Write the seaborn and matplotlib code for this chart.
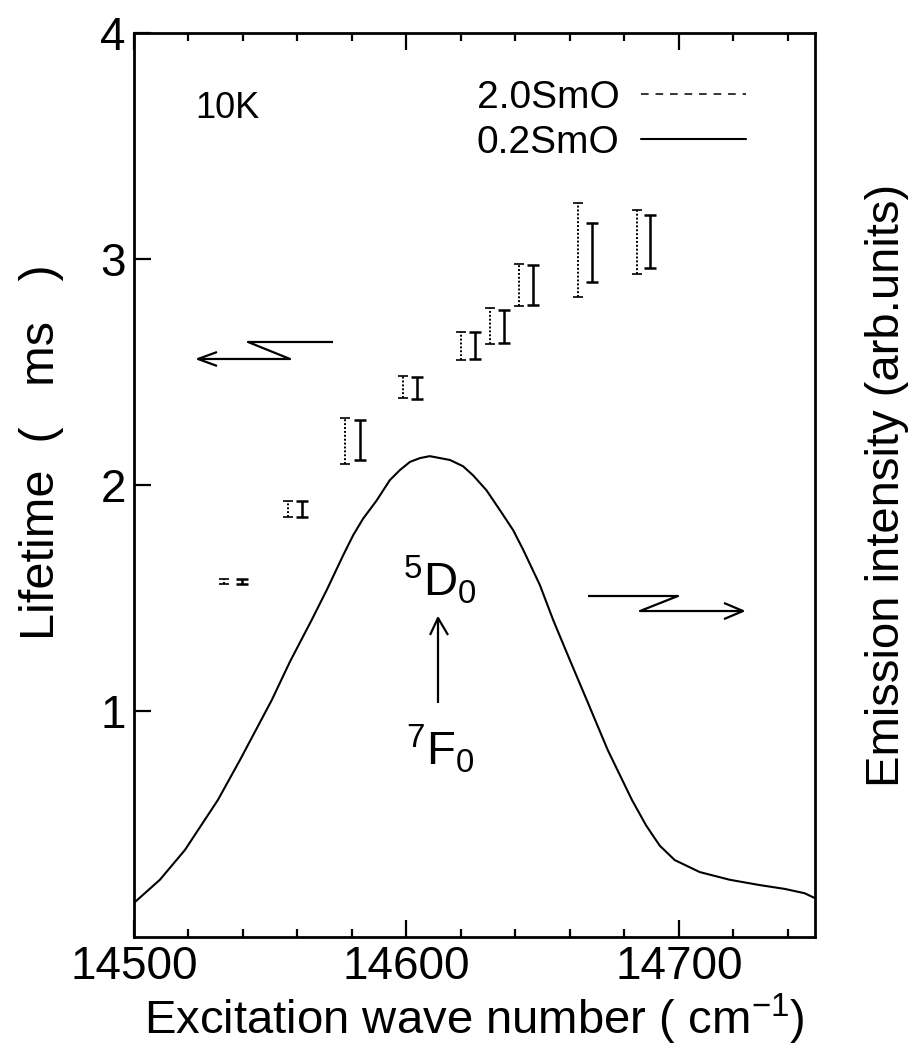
import matplotlib
matplotlib.use("Agg")
import matplotlib.pyplot as plt
from matplotlib.lines import Line2D
from matplotlib.ticker import MultipleLocator
import seaborn as sns

# Lifetime data for the two samples (centre value and half-width of the error bar)
x_20 = [14533.0, 14556.4, 14577.4, 14598.6, 14619.9, 14630.6, 14641.4, 14662.9, 14684.5]
y_20 = [1.573, 1.894, 2.194, 2.432, 2.617, 2.703, 2.885, 3.038, 3.077]
e_20 = [0.013, 0.035, 0.101, 0.049, 0.062, 0.079, 0.092, 0.208, 0.142]

x_02 = [14539.5, 14561.7, 14582.9, 14603.9, 14625.1, 14635.9, 14646.5, 14668.0, 14689.6]
y_02 = [1.573, 1.894, 2.198, 2.429, 2.619, 2.702, 2.885, 3.030, 3.077]
e_02 = [0.012, 0.037, 0.088, 0.048, 0.060, 0.072, 0.089, 0.130, 0.118]

# Emission spectrum of the 7F0 -> 5D0 band (arbitrary units)
wn = [14500.4, 14509.5, 14518.7, 14530.8, 14538.9, 14550.6, 14557.2, 14565.2,
      14570.7, 14576.8, 14580.5, 14584.1, 14589.1, 14593.9, 14597.6, 14601.3,
      14605.0, 14608.6, 14612.3, 14616.0, 14620.8, 14624.5, 14629.4, 14634.3,
      14639.2, 14642.9, 14649.0, 14653.9, 14660.0, 14666.2, 14673.9, 14682.8,
      14688.0, 14693.0, 14698.5, 14707.7, 14718.7, 14729.7, 14738.9, 14746.2,
      14749.9]
intensity = [0.073, 0.119, 0.181, 0.285, 0.368, 0.493, 0.572, 0.659,
             0.721, 0.794, 0.836, 0.870, 0.908, 0.950, 0.971, 0.988,
             0.996, 1.000, 0.996, 0.992, 0.979, 0.960, 0.929, 0.888,
             0.846, 0.805, 0.732, 0.659, 0.576, 0.493, 0.389, 0.285,
             0.232, 0.190, 0.160, 0.135, 0.119, 0.108, 0.100, 0.091,
             0.081]

x_ticks = [14500, 14600, 14700]
y_ticks = [1, 2, 3, 4]
labels = ["2.0SmO", "0.2SmO"]

sns.set_style("ticks")
plt.rcParams["font.family"] = ["Liberation Sans", "DejaVu Sans"]
plt.rcParams["mathtext.fontset"] = "custom"
plt.rcParams["mathtext.rm"] = "Liberation Sans"
plt.rcParams["mathtext.it"] = "Liberation Sans:italic"
plt.rcParams["mathtext.bf"] = "Liberation Sans:bold"
for key in ("text.color", "axes.labelcolor", "xtick.color", "ytick.color",
            "axes.edgecolor"):
    plt.rcParams[key] = "black"

fig = plt.figure(figsize=(9.19, 10.57), dpi=100)
ax = fig.add_axes([0.14581, 0.11353, 0.74102, 0.85525])

ax.set_xlim(14500, 14750)
ax.set_ylim(0, 4)
ax.set_xticks(x_ticks)
ax.set_xticklabels([str(v) for v in x_ticks])
ax.xaxis.set_minor_locator(MultipleLocator(20))
ax.set_yticks(y_ticks)
ax.set_yticklabels([str(v) for v in y_ticks])

for s in ax.spines.values():
    s.set_linewidth(2.0)
    s.set_color("black")
ax.tick_params(which="both", direction="in", top=True, right=True,
               width=1.6, color="black")
ax.tick_params(which="major", length=12, labelsize=33, pad=6)
ax.tick_params(which="minor", length=6)
ax.tick_params(axis="y", which="minor", left=False, right=False)

ax.set_xlabel(r"Excitation wave number ( cm$^{-1}$)", fontsize=34, labelpad=2)
ax.set_ylabel("Lifetime  (   ms   )", fontsize=35, labelpad=26)
ax.yaxis.label.set_y(0.5365)

# 2.0SmO: dotted error bars
eb20 = ax.errorbar(x_20, y_20, yerr=e_20, fmt="none", ecolor="black",
                   elinewidth=1.4, capsize=3.6, capthick=1.2)
for lc in eb20[2]:
    lc.set_linestyle((0, (1, 1)))
for cap in eb20[1]:
    cap.set_color("0.3")

# 0.2SmO: solid error bars
ax.errorbar(x_02, y_02, yerr=e_02, fmt="none", ecolor="black",
            elinewidth=1.8, capsize=4.3, capthick=1.8)

# Emission spectrum on its own intensity scale
tw = ax.twinx()
sns.lineplot(x=wn, y=intensity, ax=tw, color="black", linewidth=1.5)
tw.set_ylim(0, 1.88)
tw.set_yticks([])
tw.tick_params(right=False)
for s in tw.spines.values():
    s.set_visible(False)
tw.set_ylabel("Emission intensity (arb.units)", fontsize=34, labelpad=36)

# Legend
handles = [Line2D([], [], color="black", lw=1.1, dashes=(5, 4.5)),
           Line2D([], [], color="black", lw=1.5)]
ax.legend(handles, labels, loc="upper right", bbox_to_anchor=(0.8986, 0.948),
          markerfirst=False, frameon=False, fontsize=28, handlelength=2.7,
          handletextpad=0.55, labelspacing=0.22, borderpad=0, borderaxespad=0)

# Annotations
ax.text(0.0896, 0.906, "10K", transform=ax.transAxes, fontsize=26,
        ha="left", va="baseline")
ax.text(0.449, 0.377, r"$\mathregular{^5D_0}$", transform=ax.transAxes,
        fontsize=34, ha="center", va="baseline")
ax.text(0.449, 0.190, r"$\mathregular{^7F_0}$", transform=ax.transAxes,
        fontsize=34, ha="center", va="baseline")

kw = dict(transform=ax.transAxes, color="black", lw=1.6, clip_on=False,
          solid_capstyle="butt")
# vertical transition arrow
ax.plot([0.4464, 0.4464], [0.2588, 0.3529], **kw)
ax.plot([0.4347, 0.4464, 0.4611], [0.3341, 0.3529, 0.3341], **kw)
# arrow pointing to the left axis
ax.plot([0.2922, 0.1674, 0.2291, 0.0940], [0.6582, 0.6582, 0.6394, 0.6394], **kw)
ax.plot([0.1219, 0.0940, 0.1219], [0.6471, 0.6394, 0.6317], **kw)
# arrow pointing to the right axis
ax.plot([0.6667, 0.7988, 0.7430, 0.8943], [0.3772, 0.3772, 0.3606, 0.3606], **kw)
ax.plot([0.8664, 0.8943, 0.8664], [0.3695, 0.3606, 0.3517], **kw)

fig.savefig("out.png", dpi=100)
